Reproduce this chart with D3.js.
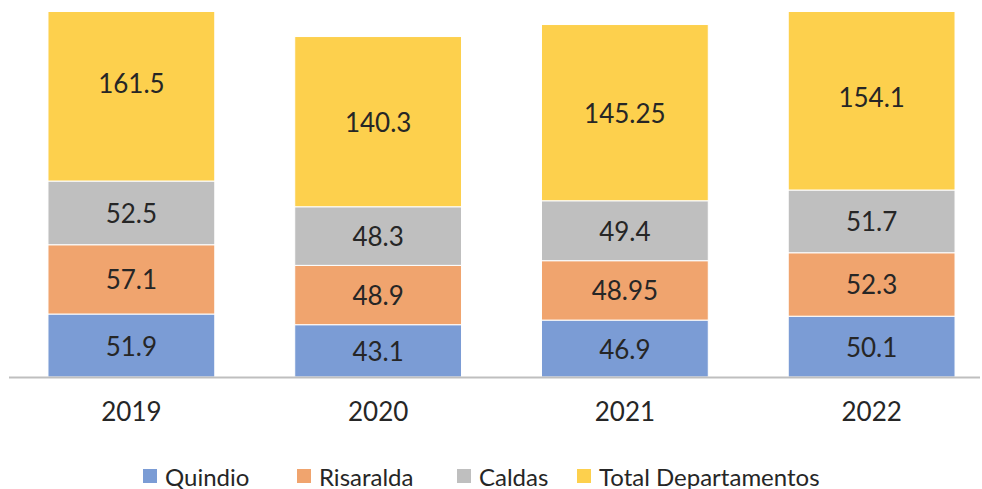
<!DOCTYPE html>
<html>
<head>
<meta charset="utf-8">
<script src="https://cdn.jsdelivr.net/npm/d3@7"></script>
<style>
  body { margin: 0; background: #fff; }
  text { font-family: Lato, "Open Sans", sans-serif; fill: #262626; }
</style>
</head>
<body>
<svg width="982" height="489"></svg>
<script>
const years = ['2019', '2020', '2021', '2022'];
const seriesNames = ['Quindio', 'Risaralda', 'Caldas', 'Total Departamentos'];
const quindio = [51.9, 43.1, 46.9, 50.1];
const risaralda = [57.1, 48.9, 48.95, 52.3];
const caldas = [52.5, 48.3, 49.4, 51.7];
const total = [161.5, 140.3, 145.25, 154.1];
const colors = ['#7b9cd5', '#f0a46e', '#bfbfbf', '#fdd04d'];

const svg = d3.select('svg');
const width = +svg.attr('width');

const data = years.map((y, i) => ({
  year: y,
  'Quindio': quindio[i],
  'Risaralda': risaralda[i],
  'Caldas': caldas[i],
  'Total Departamentos': total[i]
}));

const stack = d3.stack().keys(seriesNames)(data);

const xScale = d3.scaleBand()
  .domain(years)
  .range([8, 995])
  .paddingInner(0.324)
  .paddingOuter(0.162);

const yScale = d3.scaleLinear()
  .domain([0, 300])
  .range([377, 13]);

// plot area is cut at the top, as in the original
svg.append('clipPath').attr('id', 'plot')
  .append('rect')
  .attr('x', 0).attr('y', 12)
  .attr('width', width).attr('height', 380);

const g = svg.append('g').attr('clip-path', 'url(#plot)');

const layer = g.selectAll('g.layer').data(stack)
  .enter().append('g')
  .attr('class', 'layer')
  .attr('fill', (d, i) => colors[i]);

layer.selectAll('rect').data(d => d)
  .enter().append('rect')
  .attr('x', d => xScale(d.data.year))
  .attr('y', d => yScale(d[1]))
  .attr('width', xScale.bandwidth())
  .attr('height', d => yScale(d[0]) - yScale(d[1]))
  .attr('stroke', '#fff')
  .attr('stroke-width', 1);

layer.selectAll('text').data(d => d.map(v => ({ v, key: d.key })))
  .enter().append('text')
  .attr('x', d => xScale(d.v.data.year) + xScale.bandwidth() / 2)
  .attr('y', d => (yScale(d.v[0]) + yScale(d.v[1])) / 2)
  .attr('text-anchor', 'middle')
  .attr('dominant-baseline', 'central')
  .style('font-size', '26px')
  .text(d => d.v.data[d.key]);

// x axis
const xAxisG = svg.append('g')
  .attr('transform', 'translate(0,377)')
  .call(d3.axisBottom(xScale).tickSize(0).tickPadding(26));

xAxisG.select('.domain')
  .attr('d', 'M9,0.5H980')
  .attr('stroke', '#bfbfbf')
  .attr('stroke-width', 2);

xAxisG.selectAll('.tick text')
  .style('font-size', '26px')
  .style('font-family', 'Lato, sans-serif')
  .attr('fill', '#262626');

// legend
const legendX = [143, 297, 457, 577];
const legend = svg.append('g').attr('transform', 'translate(0,476)');
seriesNames.forEach((name, i) => {
  legend.append('rect')
    .attr('x', legendX[i])
    .attr('y', -7)
    .attr('width', 14)
    .attr('height', 14)
    .attr('fill', colors[i]);
  legend.append('text')
    .attr('x', legendX[i] + 22)
    .attr('y', 0)
    .attr('dominant-baseline', 'central')
    .style('font-size', '24px')
    .text(name);
});
</script>
</body>
</html>
